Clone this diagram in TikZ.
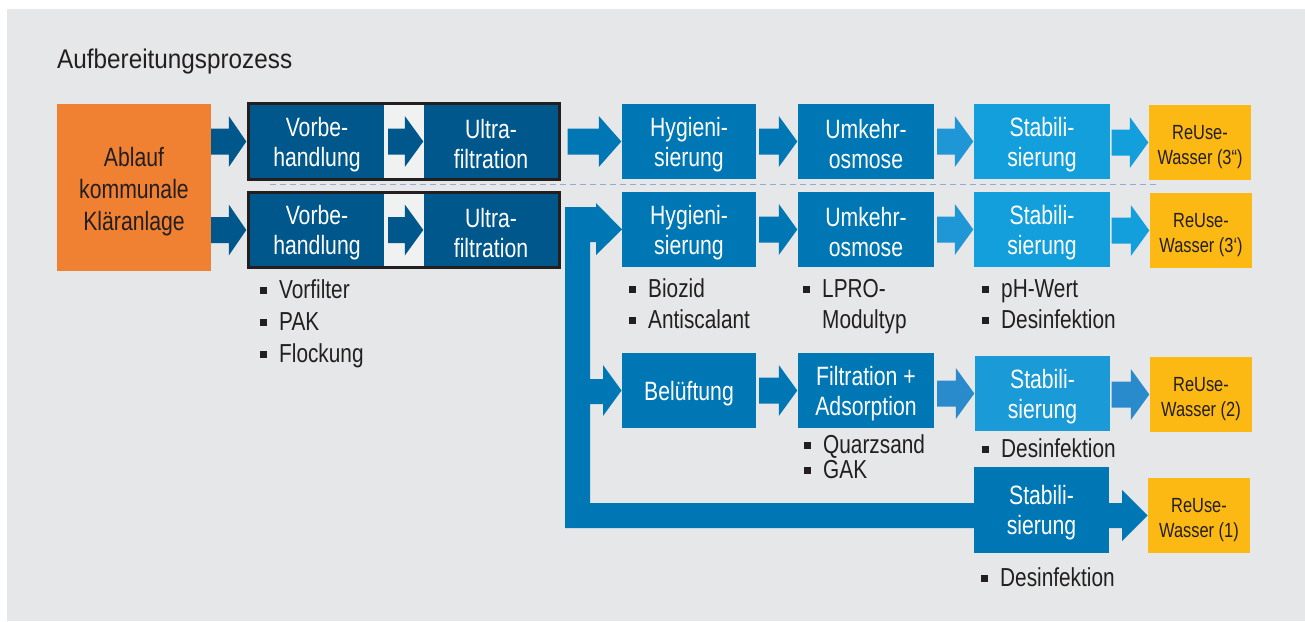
\documentclass[tikz,border=0pt]{standalone}
\usepackage{fontspec}
\setmainfont{Liberation Sans}[FakeStretch=0.8]
\newfontfamily\titlefont{Liberation Sans}[FakeStretch=0.9]
\usetikzlibrary{calc,fit,backgrounds}
\definecolor{bg}{HTML}{E6E7E8}
\definecolor{navy}{HTML}{00578C}
\definecolor{midblue}{HTML}{0077B5}
\definecolor{lightblue}{HTML}{139FDB}
\definecolor{lightbluetwo}{HTML}{1A9AD6}
\definecolor{arrowmid}{HTML}{2A8BCC}
\definecolor{arrowlight}{HTML}{1F97D7}
\definecolor{orangec}{HTML}{F08133}
\definecolor{yellowc}{HTML}{FDB913}
\definecolor{txt}{HTML}{231F20}
\definecolor{dashc}{HTML}{94AAD6}
\definecolor{framec}{HTML}{231F20}
\newcommand\boxfont{\fontsize{26.5}{30}\selectfont}
\newcommand\bulfont{\fontsize{26}{31}\selectfont}
\newcommand\refont{\fontsize{20.5}{25}\selectfont}
\newcommand\bsq{\rule[4pt]{7pt}{7pt}\hspace{12pt}}
\newcommand\tb{\rule{0pt}{25pt}}
\newcommand\tr{\rule{0pt}{23pt}}
% color, from, to, start gap, head length
\newcommand\farrow[5]{%
  \fill[#1] let \p1=(#2.east), \p2=(#3.west) in
    (\x1+#4pt,\y2+13pt) -- (\x2-#5pt,\y2+13pt) -- (\x2-#5pt,\y2+25.5pt)
    -- (\x2-0.5pt,\y2) -- (\x2-#5pt,\y2-25.5pt) -- (\x2-#5pt,\y2-13pt)
    -- (\x1+#4pt,\y2-13pt) -- cycle;}
\tikzset{
  proc/.style={rectangle, fill=#1, text=white, inner sep=0, align=center,
    minimum width=134, minimum height=75, font=\boxfont},
  reuse/.style={rectangle, fill=yellowc, text=txt, inner sep=0, align=center,
    minimum width=102, minimum height=75, font=\refont},
  bul/.style={anchor=base west, inner sep=0, text=txt, font=\bulfont},
  grpframe/.style={rectangle, draw=framec, line width=3pt, fill=bg!60!white, inner sep=1.5pt}
}
\begin{document}
\begin{tikzpicture}[x=1pt,y=-1pt]
\useasboundingbox (0,0) rectangle (1305,621);
\begin{pgfonlayer}{background}
  \fill[bg] (7,9) rectangle (1305,621);
\end{pgfonlayer}

\node[anchor=base west, inner sep=0, text=txt, font=\titlefont\fontsize{27}{32}\selectfont] (title) at (57,68) {Aufbereitungsprozess};

% pipe (branching main line)
\fill[midblue] (565,207) -- (596,207) -- (596,203) -- (622,229.5) -- (596,255) -- (596,242)
  -- (590,242) -- (590,379) -- (603,379) -- (603,365) -- (621.5,390.5) -- (603,416) -- (603,404)
  -- (590,404) -- (590,503) -- (1122,503) -- (1122,490) -- (1147.5,515.5) -- (1122,541)
  -- (1122,528) -- (565,528) -- cycle;

% source
\node[fill=orangec, minimum width=154, minimum height=167, inner sep=0, align=center,
  text=txt, font=\fontsize{26.5}{32}\selectfont] (abl) at (134,187.5) {\rule{0pt}{27pt}Ablauf\\kommunale\\Kläranlage};

% pretreatment groups
\node[proc=navy, minimum height=73] (vb1) at (317,141.5) {\tb Vorbe-\\handlung};
\node[proc=navy, minimum height=73] (uf1) at (491,141.5) {\tb Ultra-\\filtration};
\node[proc=navy, minimum height=72] (vb2) at (317,230) {\tb Vorbe-\\handlung};
\node[proc=navy, minimum height=72] (uf2) at (491,230) {\tb Ultra-\\filtration};
\begin{pgfonlayer}{background}
  \node[grpframe, fit=(vb1)(uf1)] (grp1) {};
  \node[grpframe, fit=(vb2)(uf2)] (grp2) {};
\end{pgfonlayer}

% row 1
\node[proc=midblue] (hyg1) at (689,141.5) {\tb Hygieni-\\sierung};
\node[proc=midblue, minimum width=136] (umk1) at (866,141.5) {\tb Umkehr-\\osmose};
\node[proc=lightblue, minimum width=136] (stab1) at (1042,141.5) {\tb Stabili-\\sierung};
\node[reuse] (re1) at (1200,142.5) {\tr ReUse-\\Wasser (3“)};
% row 2
\node[proc=midblue] (hyg2) at (689,229.5) {\tb Hygieni-\\sierung};
\node[proc=midblue, minimum width=136] (umk2) at (866,229.5) {\tb Umkehr-\\osmose};
\node[proc=lightblue, minimum width=136] (stab2) at (1042,229.5) {\tb Stabili-\\sierung};
\node[reuse] (re2) at (1201,230.5) {\tr ReUse-\\Wasser (3‘)};
% row 3
\node[proc=midblue] (bel) at (689,390.5) {\tb Belüftung};
\node[proc=midblue, minimum width=136] (filt) at (866,390.5) {\tb Filtration +\\Adsorption};
\node[proc=lightbluetwo, minimum width=135] (stab3) at (1042.5,393.5) {\tb Stabili-\\sierung};
\node[reuse] (re3) at (1201,394.5) {\tr ReUse-\\Wasser (2)};
% row 4
\node[proc=midblue, minimum width=135, minimum height=86] (stab4) at (1041.5,510) {\tb Stabili-\\sierung};
\node[reuse] (re4) at (1199,515.5) {\tr ReUse-\\Wasser (1)};

% separator
\draw[dashc, line width=1.6pt, dash pattern=on 6pt off 4pt] (270,184.5) -- (1159,184.5);

% arrows
\farrow{navy}{abl}{grp1}{0}{18}
\farrow{navy}{abl}{grp2}{0}{18}
\farrow{navy}{vb1}{uf1}{4}{19}
\farrow{navy}{vb2}{uf2}{4}{19}
\farrow{midblue}{grp1}{hyg1}{6.5}{23}
\farrow{midblue}{hyg1}{umk1}{3}{19}
\farrow{arrowlight}{umk1}{stab1}{3}{19}
\farrow{lightblue}{stab1}{re1}{1.5}{19}
\farrow{midblue}{hyg2}{umk2}{3}{19}
\farrow{arrowlight}{umk2}{stab2}{3}{19}
\farrow{lightblue}{stab2}{re2}{1.5}{19}
\farrow{midblue}{bel}{filt}{3}{19}
\farrow{arrowmid}{filt}{stab3}{3}{19}
\farrow{arrowmid}{stab3}{re3}{1.5}{19}

% bullet lists
\node[bul] (l1) at (260,298) {\bsq Vorfilter};
\node[bul] (l2) at (260,330) {\bsq PAK};
\node[bul] (l3) at (260,362) {\bsq Flockung};
\node[bul] (l4) at (629,297) {\bsq Biozid};
\node[bul] (l5) at (629,328) {\bsq Antiscalant};
\node[bul] (l6) at (803,297) {\bsq LPRO-};
\node[bul] (l7) at (822,328) {Modultyp};
\node[bul] (l8) at (982,297) {\bsq pH-Wert};
\node[bul] (l9) at (982,328) {\bsq Desinfektion};
\node[bul] (l10) at (804,453) {\bsq Quarzsand};
\node[bul] (l11) at (804,478) {\bsq GAK};
\node[bul] (l12) at (982,457) {\bsq Desinfektion};
\node[bul] (l13) at (981,586) {\bsq Desinfektion};
\end{tikzpicture}
\end{document}
